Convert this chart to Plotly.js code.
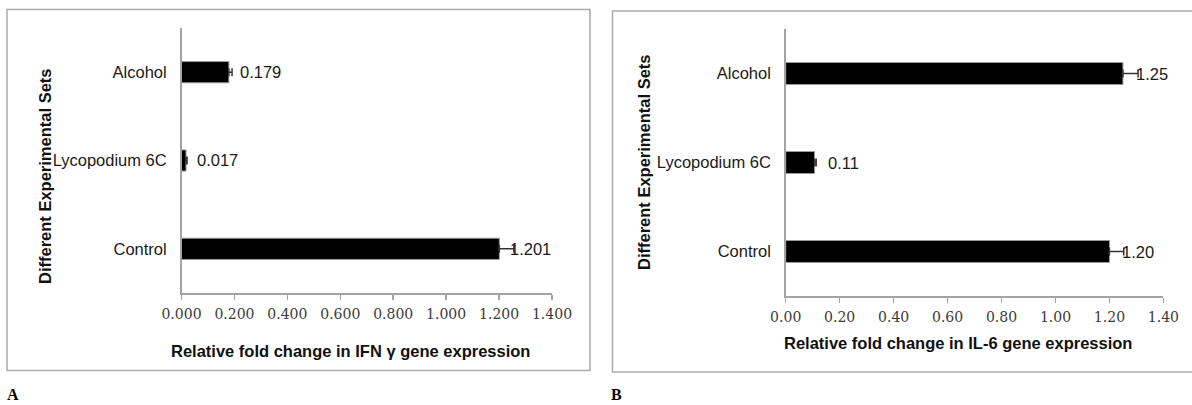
<!DOCTYPE html>
<html>
<head>
<meta charset="utf-8">
<script src="https://cdn.plot.ly/plotly-3.0.1.min.js"></script>
<style>html,body{margin:0;padding:0;background:#fff;}#chart{width:1192px;height:405px;}</style>
</head>
<body>
<div id="chart"></div>
<script>
const categories = ['Control', 'Lycopodium 6C', 'Alcohol'];
const ifnValues = [1.201, 0.017, 0.179];
const ifnErrors = [0.055, 0.004, 0.012];
const il6Values = [1.20, 0.107, 1.25];
const il6Errors = [0.053, 0.006, 0.056];
const xTicks = [0, 0.2, 0.4, 0.6, 0.8, 1.0, 1.2, 1.4];

const W = 1192, H = 405;
const px = v => v / W;
const py = v => 1 - v / H;

const sans = 'Liberation Sans, Arial, sans-serif';
const serif = 'DejaVu Serif, serif';
const axisGray = '#a3a3a3';

function barTrace(vals, errs, xa, ya, w) {
  return {
    type: 'bar', orientation: 'h',
    x: vals, y: categories, xaxis: xa, yaxis: ya,
    width: w,
    marker: {color: '#000000', line: {color: '#9a9a9a', width: 1}},
    error_x: {type: 'data', array: errs, arrayminus: errs.map(() => 0), symmetric: false,
              color: '#333333', thickness: 1.5, width: 4},
    hoverinfo: 'skip'
  };
}

const traces = [
  barTrace(ifnValues, ifnErrors, 'x', 'y', 0.24),
  barTrace(il6Values, il6Errors, 'x2', 'y2', 0.247)
];

function xAxis(domain, fmt, anchor) {
  return {
    domain: domain, anchor: anchor, range: [0, 1.4],
    tickvals: xTicks, tickformat: fmt,
    showgrid: false, zeroline: false,
    showline: true, linecolor: axisGray, linewidth: 1.5,
    ticks: 'outside', ticklen: 5, tickcolor: axisGray, tickwidth: 1.5,
    ticklabelstandoff: 3,
    tickfont: {family: serif, size: 14, color: '#3a3a3a'},
    fixedrange: true
  };
}
function yAxis(domain, anchor) {
  return {
    domain: domain, anchor: anchor, type: 'category',
    categoryorder: 'array', categoryarray: categories,
    range: [-0.5, 2.5],
    showgrid: false, zeroline: false,
    showline: true, linecolor: axisGray, linewidth: 1.5,
    ticks: '', ticklabelstandoff: 10,
    tickfont: {family: sans, size: 16.5, color: '#1a1a1a'},
    fixedrange: true
  };
}

const annotations = [];
categories.forEach((c, i) => {
  annotations.push({xref: 'x', yref: 'y', x: ifnValues[i], y: c, text: ifnValues[i].toFixed(3),
    showarrow: false, xanchor: 'left', yanchor: 'middle', xshift: 9,
    font: {family: sans, size: 16.5, color: '#1a1a1a'}});
  annotations.push({xref: 'x2', yref: 'y2', x: il6Values[i], y: c, text: il6Values[i].toFixed(2),
    showarrow: false, xanchor: 'left', yanchor: 'middle', xshift: 11,
    font: {family: sans, size: 16.5, color: '#1a1a1a'}});
});
const titleFont = {family: sans, size: 16.5, color: '#111111', weight: 'bold'};
annotations.push(
  {xref: 'paper', yref: 'paper', x: px(350), y: py(351), text: '<b>Relative fold change in IFN γ gene expression</b>',
   showarrow: false, xanchor: 'center', yanchor: 'middle', font: titleFont},
  {xref: 'paper', yref: 'paper', x: px(958), y: py(343), text: '<b>Relative fold change in IL-6 gene expression</b>',
   showarrow: false, xanchor: 'center', yanchor: 'middle', font: titleFont},
  {xref: 'paper', yref: 'paper', x: px(45), y: py(177), text: '<b>Different Experimental Sets</b>', textangle: -90,
   showarrow: false, xanchor: 'center', yanchor: 'middle', font: titleFont},
  {xref: 'paper', yref: 'paper', x: px(643.5), y: py(162.5), text: '<b>Different Experimental Sets</b>', textangle: -90,
   showarrow: false, xanchor: 'center', yanchor: 'middle', font: titleFont},
  {xref: 'paper', yref: 'paper', x: px(5), y: py(394), text: '<b>A</b>',
   showarrow: false, xanchor: 'left', yanchor: 'middle', font: {family: 'Liberation Serif, serif', size: 16, color: '#000'}},
  {xref: 'paper', yref: 'paper', x: px(609), y: py(394), text: '<b>B</b>',
   showarrow: false, xanchor: 'left', yanchor: 'middle', font: {family: 'Liberation Serif, serif', size: 16, color: '#000'}}
);

const shapes = [
  {type: 'rect', xref: 'paper', yref: 'paper', x0: px(7), x1: px(590), y0: py(370.5), y1: py(9.5),
   line: {color: '#ababab', width: 1.5}},
  {type: 'rect', xref: 'paper', yref: 'paper', x0: px(612.5), x1: px(1200), y0: py(372), y1: py(11),
   line: {color: '#ababab', width: 1.5}}
];

const layout = {
  width: W, height: H,
  margin: {l: 0, r: 0, t: 0, b: 0},
  paper_bgcolor: '#ffffff', plot_bgcolor: 'rgba(0,0,0,0)',
  showlegend: false,
  xaxis: xAxis([px(181.5), px(552)], '.3f', 'y'),
  yaxis: yAxis([py(293), py(28)], 'x'),
  xaxis2: xAxis([px(785.7), px(1163.4)], '.2f', 'y2'),
  yaxis2: yAxis([py(296), py(29)], 'x2'),
  annotations: annotations,
  shapes: shapes
};

Plotly.newPlot('chart', traces, layout, {displayModeBar: false, staticPlot: true});
</script>
</body>
</html>
